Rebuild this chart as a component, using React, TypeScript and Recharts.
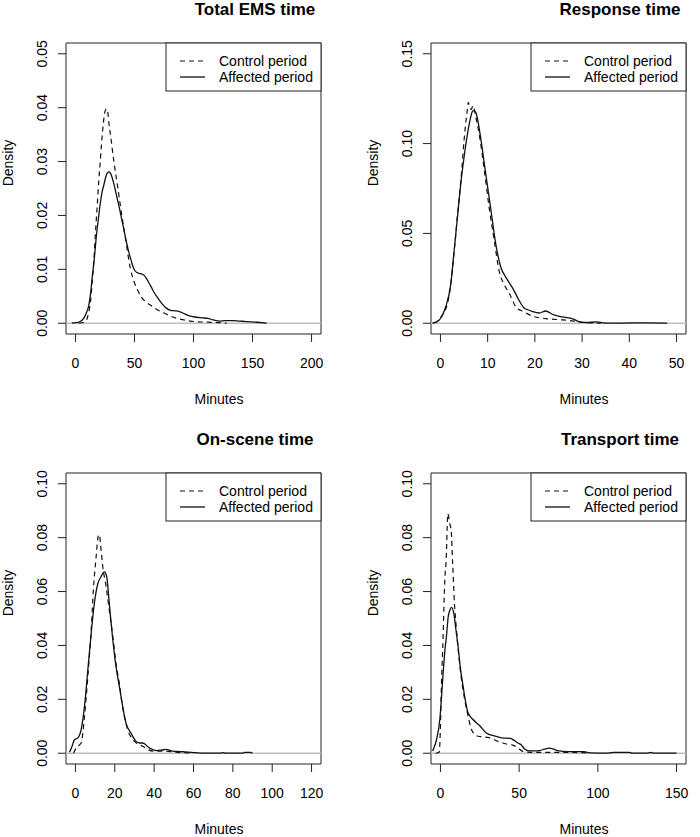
import React from 'react';
import { LineChart, Line, XAxis, YAxis, ReferenceLine, ReferenceArea } from 'recharts';

const FONT = '"Liberation Sans", Arial, Helvetica, sans-serif';

// ---- Data: [minutes, density] ----
const emsControl: number[][] = [
  [3, 0], [8.5, 0.0003], [11, 0.0018], [12.7, 0.0039], [14, 0.007], [15.5, 0.0114], [17, 0.017], [18.5, 0.022],
  [19.8, 0.0265], [21, 0.03], [22, 0.033], [23.7, 0.0373], [25, 0.0393], [26.3, 0.0398], [27.5, 0.039], [28.5, 0.0368],
  [30, 0.0345], [31.2, 0.0323], [33.9, 0.028], [36, 0.025], [38, 0.0219], [42.4, 0.0157], [46.6, 0.0101], [50, 0.0075],
  [53, 0.006], [56, 0.0048], [60, 0.0039], [64, 0.0033], [68, 0.0027], [72, 0.0022], [76, 0.0018], [82, 0.0012],
  [88, 0.0008], [97, 0.0004], [110, 0.0002], [122, 0.0001], [128, 0],
];
const emsAffected: number[][] = [
  [-3, 0], [0, 0.0001], [3, 0.0002], [7, 0.0009], [9, 0.0018], [11.3, 0.0033], [12.8, 0.0055], [14.1, 0.0083],
  [16, 0.012], [17.5, 0.0157], [19.5, 0.0195], [21.2, 0.0225], [22.5, 0.0243], [24, 0.0256], [25.5, 0.027],
  [26.8, 0.0278], [28.2, 0.0281], [29.5, 0.0279], [31, 0.0271], [32.5, 0.0259], [34.5, 0.024], [36.7, 0.0219],
  [38.8, 0.0197], [40.9, 0.0175], [43, 0.0153], [45.2, 0.0132], [47.5, 0.0114], [49.4, 0.0101], [52, 0.0094],
  [55, 0.0092], [57.5, 0.009], [59.3, 0.0086], [62, 0.0076], [64.5, 0.0066], [66.4, 0.0058], [70, 0.0046],
  [73.4, 0.0036], [77, 0.0028], [80.5, 0.0024], [84, 0.0023], [87.6, 0.0022], [91, 0.0019], [96, 0.0014],
  [100, 0.0012], [107.4, 0.001], [112, 0.0009], [117, 0.0006], [122, 0.0004], [127, 0.0005], [133, 0.0005],
  [139, 0.0004], [145, 0.0003], [152, 0.0002], [158, 0.0001], [162, 0],
];

const respControl: number[][] = [
  [-1.5, 0], [-0.5, 0.0015], [0.5, 0.005], [1.5, 0.011], [2, 0.018], [2.5, 0.0294], [3.2, 0.048], [3.6, 0.06],
  [4, 0.0702], [4.5, 0.085], [5, 0.1017], [5.3, 0.11], [5.6, 0.1165], [5.9, 0.123], [6.2, 0.12], [6.5, 0.119],
  [6.9, 0.1211], [7.5, 0.1146], [8.2, 0.1054], [9.3, 0.085], [10.3, 0.0646], [11.4, 0.046], [12.4, 0.0294],
  [13.5, 0.0215], [14.6, 0.0165], [16, 0.009], [17.7, 0.0063], [19.5, 0.0039], [22.3, 0.0026], [25.1, 0.002],
  [28, 0.0013], [30, 0.0005], [32, 0.0002], [34, 0],
];
const respAffected: number[][] = [
  [-1.7, 0], [-0.3, 0.0017], [0.5, 0.005], [1.1, 0.009], [2.2, 0.022], [2.9, 0.0405], [3.6, 0.059], [4.3, 0.0776],
  [5, 0.0924], [5.7, 0.105], [6.4, 0.1146], [6.8, 0.118], [7.1, 0.1183], [7.6, 0.1165], [8.5, 0.1035], [9.6, 0.083],
  [10.7, 0.0628], [11.7, 0.0443], [12.8, 0.031], [14, 0.025], [15.3, 0.0195], [16.7, 0.0125], [17.7, 0.0085],
  [18.5, 0.0075], [19.5, 0.0065], [20.9, 0.0057], [22.3, 0.0068], [23.7, 0.005], [25.8, 0.0035], [28, 0.0024],
  [29.7, 0.0006], [31, 0.0004], [33, 0.0007], [34.5, 0.0002], [36, 0], [41, 0.0002], [44, 0.0002], [47, 0.0001], [48, 0],
];

const sceneControl: number[][] = [
  [-1, 0], [0.5, 0.002], [1.2, 0.0026], [2.9, 0.0038], [4.6, 0.0137], [6.3, 0.0285], [8, 0.0457], [9.1, 0.0605],
  [10.5, 0.0728], [11.7, 0.0809], [12.2, 0.0811], [12.7, 0.0778], [13.9, 0.0692], [15.6, 0.0618], [17.2, 0.0531],
  [19, 0.0433], [20.6, 0.0334], [22.3, 0.026], [24, 0.017], [26.5, 0.0088], [29.1, 0.0051], [31.5, 0.0035],
  [34.2, 0.0026], [36.5, 0.0015], [39.2, 0.0008], [43, 0.0008], [46, 0.0008], [50, 0.0004], [55, 0.0002], [60, 0],
];
const sceneAffected: number[][] = [
  [-3, 0.0004], [-2, 0.002], [-0.5, 0.005], [1.2, 0.0057], [2.9, 0.0088], [4.6, 0.0174], [6.3, 0.031], [8, 0.0445],
  [9.6, 0.0556], [11.4, 0.063], [13, 0.0655], [14.7, 0.0673], [15.9, 0.0655], [17.2, 0.0556], [19, 0.042],
  [20.6, 0.0322], [22.3, 0.0248], [24, 0.0174], [25.7, 0.0112], [28.2, 0.0075], [30.8, 0.0044], [32.5, 0.0038],
  [34.2, 0.0038], [37.5, 0.002], [40.9, 0.001], [44, 0.0012], [46, 0.0014], [49.4, 0.0008], [53, 0.0006],
  [56, 0.0005], [61, 0.0002], [65, 0], [74, 0], [75, 0.0002], [76, 0], [85, 0], [86, 0.0003], [89, 0.0003], [90, 0],
];

const transControl: number[][] = [
  [-3, 0], [-0.8, 0.0004], [0, 0.01], [0.6, 0.0248], [1.7, 0.0433], [2.5, 0.06], [2.8, 0.0645], [3.8, 0.0741],
  [4.3, 0.084], [4.7, 0.0889], [5.3, 0.0875], [6, 0.085], [6.8, 0.0827], [7.8, 0.07], [8.9, 0.0556], [10, 0.047],
  [11.2, 0.039], [13, 0.029], [15.4, 0.0199], [17.6, 0.0137], [19.7, 0.0088], [21.5, 0.0072], [23.9, 0.0063],
  [27, 0.0061], [31.3, 0.0057], [34.2, 0.005], [39.7, 0.0038], [42.7, 0.0033], [46, 0.003], [49, 0.002],
  [52.4, 0.0007], [55.4, 0.0004], [60, 0.0003], [70, 0.0003], [80, 0.0003], [90, 0.0002], [95, 0],
];
const transAffected: number[][] = [
  [-5, 0.0008], [-4.6, 0.0014], [-2.5, 0.005], [-0.4, 0.0125], [0.7, 0.021], [1.7, 0.0297], [2.8, 0.038],
  [3.8, 0.0433], [5, 0.051], [6, 0.0531], [7, 0.0541], [8.5, 0.0519], [9.8, 0.046], [11.2, 0.0396], [12.8, 0.031],
  [14.4, 0.0248], [16, 0.019], [17.6, 0.0149], [20.7, 0.0125], [25, 0.0102], [29.2, 0.0075], [34.2, 0.0064],
  [39, 0.0057], [44.5, 0.0055], [47, 0.0047], [49.2, 0.0038], [51.1, 0.0032], [53.5, 0.0016], [56.5, 0.0009],
  [60, 0.0009], [63, 0.001], [66, 0.0015], [69.2, 0.0019], [72, 0.0015], [74.5, 0.001], [81, 0.0006], [91, 0.0006],
  [95.5, 0.0001], [105, 0], [110, 0.0003], [120, 0.0003], [122, 0], [131, 0], [133.5, 0.0003], [136, 0], [150, 0],
];

// ---- Axis settings ----
const emsXTicks = [0, 50, 100, 150, 200];
const emsYTicks = [0, 0.01, 0.02, 0.03, 0.04, 0.05];
const respXTicks = [0, 10, 20, 30, 40, 50];
const respYTicks = [0, 0.05, 0.1, 0.15];
const sceneXTicks = [0, 20, 40, 60, 80, 100, 120];
const sceneYTicks = [0, 0.02, 0.04, 0.06, 0.08, 0.1];
const transXTicks = [0, 50, 100, 150];
const transYTicks = [0, 0.02, 0.04, 0.06, 0.08, 0.1];

const titles = ['Total EMS time', 'Response time', 'On-scene time', 'Transport time'];
const legendLabels = ['Control period', 'Affected period'];

function buildTable(control: number[][], affected: number[][]) {
  const map = new Map<number, any>();
  control.forEach(([m, d]) => {
    const r = map.get(m) || { m };
    r.control = d;
    map.set(m, r);
  });
  affected.forEach(([m, d]) => {
    const r = map.get(m) || { m };
    r.affected = d;
    map.set(m, r);
  });
  return Array.from(map.values()).sort((a, b) => a.m - b.m);
}

function padDomain(ticks: number[]): [number, number] {
  const lo = ticks[0];
  const hi = ticks[ticks.length - 1];
  const pad = (hi - lo) * 0.04;
  return [lo - pad, hi + pad];
}

const W = 335;
const H = 407;
const PL = 66; // plot left
const PT = 43; // plot top
const PW = 255;
const PH = 291;

const YTick = (props: any) => {
  const { x, y, payload } = props;
  return (
    <text
      x={x}
      y={y}
      transform={`rotate(-90 ${x} ${y})`}
      textAnchor="middle"
      fontSize={14}
      fill="#000"
      fontFamily={FONT}
    >
      {Number(payload.value).toFixed(2)}
    </text>
  );
};

type PanelProps = {
  title: string;
  control: number[][];
  affected: number[][];
  xTicks: number[];
  yTicks: number[];
  left: number;
  top: number;
};

function Panel({ title, control, affected, xTicks, yTicks, left, top }: PanelProps) {
  const data = buildTable(control, affected);
  const xDomain = padDomain(xTicks);
  const yDomain = padDomain(yTicks);
  return (
    <div style={{ position: 'absolute', left, top, width: W, height: H }}>
      <LineChart
        width={W}
        height={H}
        data={data}
        margin={{ top: PT, right: W - PL - PW, left: PL - 60, bottom: H - PT - PH - 30 }}
      >
        <XAxis
          dataKey="m"
          type="number"
          domain={xDomain}
          ticks={xTicks}
          allowDataOverflow
          interval={0}
          height={30}
          tickSize={8}
          tickMargin={16}
          axisLine={false}
          tickLine={{ stroke: '#222' }}
          tick={{ fontSize: 14, fill: '#000', fontFamily: FONT }}
        />
        <YAxis
          type="number"
          domain={yDomain}
          ticks={yTicks}
          allowDataOverflow
          interval={0}
          width={60}
          tickSize={8}
          tickMargin={11}
          axisLine={false}
          tickLine={{ stroke: '#222' }}
          tick={<YTick />}
        />
        <ReferenceLine y={0} stroke="#bebebe" strokeWidth={1.5} />
        <ReferenceArea
          x1={xDomain[0]}
          x2={xDomain[1]}
          y1={yDomain[0]}
          y2={yDomain[1]}
          fill="none"
          stroke="#222"
          strokeWidth={1}
          strokeOpacity={1}
        />
        <Line
          dataKey="control"
          type="monotone"
          stroke="#111"
          strokeWidth={1.2}
          strokeDasharray="5 4"
          dot={false}
          activeDot={false}
          connectNulls
          isAnimationActive={false}
        />
        <Line
          dataKey="affected"
          type="monotone"
          stroke="#111"
          strokeWidth={1.3}
          dot={false}
          activeDot={false}
          connectNulls
          isAnimationActive={false}
        />
      </LineChart>
      <svg
        width={W}
        height={H}
        style={{ position: 'absolute', left: 0, top: 0, pointerEvents: 'none' }}
        fontFamily={FONT}
      >
        <text x={PL + 189} y={15} textAnchor="middle" fontSize={17} fontWeight="bold" fill="#000">
          {title}
        </text>
        <text x={13} y={PT + 120} transform={`rotate(-90 13 ${PT + 120})`} textAnchor="middle" fontSize={14} fill="#000">
          Density
        </text>
        <text x={PL + 153} y={404} textAnchor="middle" fontSize={14} fill="#000">
          Minutes
        </text>
        <rect x={PL + 100} y={PT} width={PW - 100} height={48} fill="#fff" stroke="#222" strokeWidth={1} />
        <line x1={PL + 114} x2={PL + 139} y1={PT + 18} y2={PT + 18} stroke="#111" strokeWidth={1.2} strokeDasharray="5 4" />
        <line x1={PL + 114} x2={PL + 139} y1={PT + 34} y2={PT + 34} stroke="#111" strokeWidth={1.3} />
        <text x={PL + 153} y={PT + 22.5} fontSize={14} fill="#000">
          {legendLabels[0]}
        </text>
        <text x={PL + 153} y={PT + 39} fontSize={14} fill="#000">
          {legendLabels[1]}
        </text>
      </svg>
    </div>
  );
}

export default function App() {
  return (
    <div style={{ position: 'absolute', left: 0, top: 0, width: 700, height: 837, background: '#fff', fontFamily: FONT }}>
      <Panel title={titles[0]} control={emsControl} affected={emsAffected} xTicks={emsXTicks} yTicks={emsYTicks} left={0} top={0} />
      <Panel title={titles[1]} control={respControl} affected={respAffected} xTicks={respXTicks} yTicks={respYTicks} left={365} top={0} />
      <Panel title={titles[2]} control={sceneControl} affected={sceneAffected} xTicks={sceneXTicks} yTicks={sceneYTicks} left={0} top={430} />
      <Panel title={titles[3]} control={transControl} affected={transAffected} xTicks={transXTicks} yTicks={transYTicks} left={365} top={430} />
    </div>
  );
}
